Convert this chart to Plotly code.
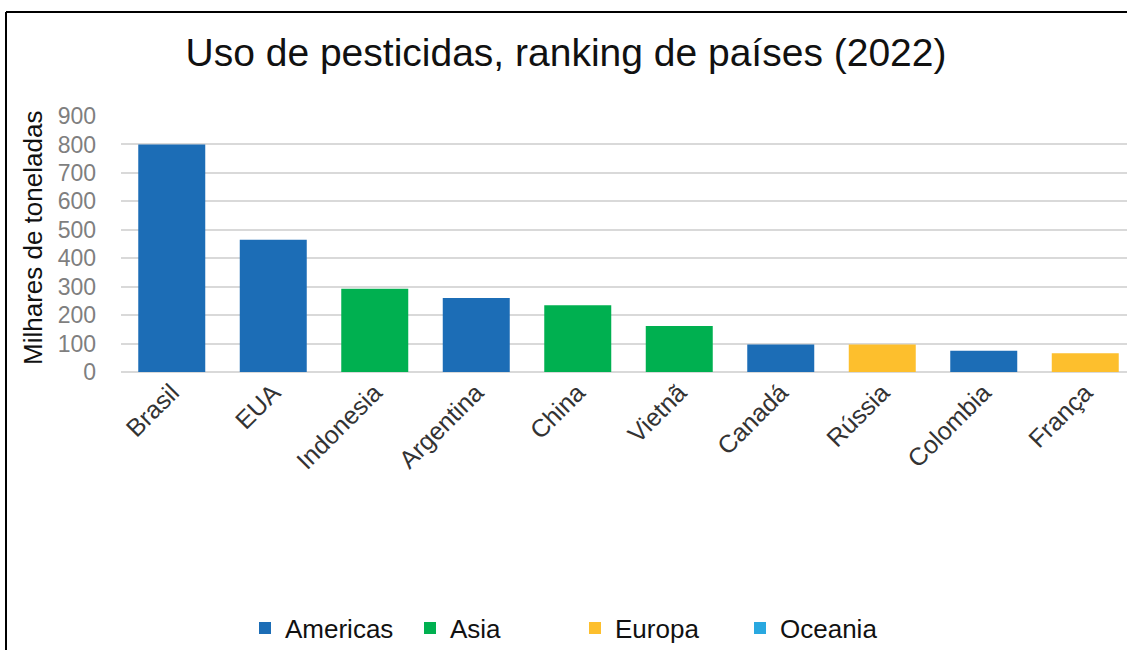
import plotly.graph_objects as go

countries = ["Brasil", "EUA", "Indonesia", "Argentina", "China", "Vietnã",
             "Canadá", "Rússia", "Colombia", "França"]
values = [800, 465, 293, 260, 235, 162, 97, 97, 75, 66]
regions = ["Americas", "Americas", "Asia", "Americas", "Asia", "Asia",
           "Americas", "Europa", "Americas", "Europa"]
region_names = ["Americas", "Asia", "Europa", "Oceania"]
region_colors = ["#1C6DB6", "#00B050", "#FDBF2D", "#29A8E0"]
y_ticks = [0, 100, 200, 300, 400, 500, 600, 700, 800, 900]

fig = go.Figure()
for name, color in zip(region_names, region_colors):
    xs = [c for c, r in zip(countries, regions) if r == name]
    ys = [v for v, r in zip(values, regions) if r == name]
    if not xs:
        xs, ys = [countries[0]], [0]
    fig.add_trace(go.Bar(x=xs, y=ys, name=name, marker_color=color,
                         marker_line_width=0))

W, H = 1127, 650
ml, mr, mt, mb = 121, 0, 116, 278
pw, ph = W - ml - mr, H - mt - mb

def px(x):
    return (x - ml) / pw

def py(y):
    return (H - mb - y) / ph

fig.update_layout(
    width=W, height=H,
    margin=dict(l=ml, r=mr, t=mt, b=mb, pad=0, autoexpand=False),
    paper_bgcolor="white", plot_bgcolor="white",
    barmode="overlay", bargap=0.34,
    title=dict(text="Uso de pesticidas, ranking de países (2022)",
               x=px(566), xref="paper", xanchor="center",
               y=1 - 52 / H, yanchor="middle",
               font=dict(family="Liberation Sans, Arial", size=39, color="#111111")),
    xaxis=dict(categoryorder="array", categoryarray=countries,
               range=[-0.5, -0.5 + pw / 101.5],
               tickangle=-45, showgrid=False, showline=False, ticks="",
               automargin=False,
               tickfont=dict(family="Liberation Sans, Arial", size=25, color="#333333")),
    yaxis=dict(range=[0, 900], tickvals=y_ticks, showgrid=True,
               gridcolor="#D9D9D9", gridwidth=2, zeroline=True,
               zerolinecolor="#D9D9D9", zerolinewidth=2, showline=False,
               ticks="", ticklabelstandoff=24, automargin=False,
               tickfont=dict(family="Liberation Sans, Arial", size=23, color="#7F7F7F")),
    annotations=[
        dict(text="Milhares de toneladas", xref="paper", yref="paper",
             x=px(33), y=py(238), xanchor="center", yanchor="middle",
             textangle=-90, showarrow=False,
             font=dict(family="Liberation Sans, Arial", size=26, color="#111111")),
    ],
    legend=dict(orientation="h", x=px(245), xanchor="left",
                yref="container", y=(H - 628) / H, yanchor="middle",
                entrywidth=120, itemwidth=30, traceorder="normal",
                font=dict(family="Liberation Sans, Arial", size=26, color="#111111")),
    shapes=[
        dict(type="line", xref="paper", yref="paper", x0=px(6), x1=px(1127),
             y0=py(12), y1=py(12), line=dict(color="black", width=2)),
        dict(type="line", xref="paper", yref="paper", x0=px(6), x1=px(6),
             y0=py(12), y1=py(650), line=dict(color="black", width=2)),
    ],
)

fig.write_html("out.html")
